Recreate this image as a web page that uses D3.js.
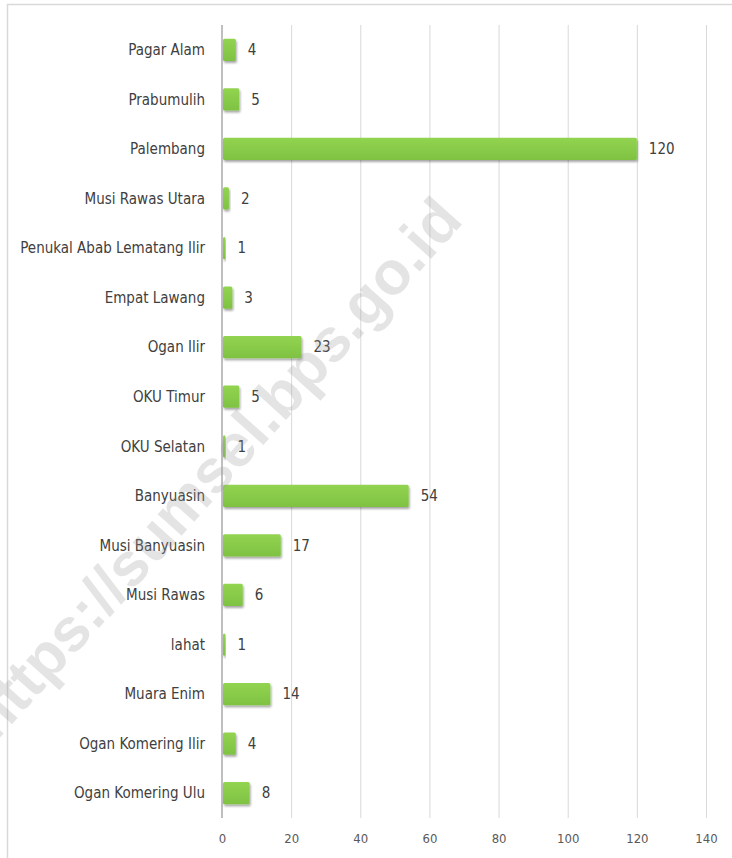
<!DOCTYPE html>
<html>
<head>
<meta charset="utf-8">
<script src="https://cdn.jsdelivr.net/npm/d3@7"></script>
<style>
  body { margin: 0; background: #fff; }
  svg { display: block; }
  .cat { font-family: "Liberation Sans Narrow", "DejaVu Sans Condensed", sans-serif; font-size: 15px; fill: #404040; }
  .val { font-family: "Liberation Sans Narrow", "DejaVu Sans Condensed", sans-serif; font-size: 15px; fill: #404040; }
  .tick text { font-family: "Liberation Sans Narrow", "DejaVu Sans Condensed", sans-serif; font-size: 13px; fill: #595959; }
</style>
</head>
<body>
<svg id="chart"></svg>
<script>
// data
var regions = ["Pagar Alam", "Prabumulih", "Palembang", "Musi Rawas Utara",
  "Penukal Abab Lematang Ilir", "Empat Lawang", "Ogan Ilir", "OKU Timur",
  "OKU Selatan", "Banyuasin", "Musi Banyuasin", "Musi Rawas", "lahat",
  "Muara Enim", "Ogan Komering Ilir", "Ogan Komering Ulu"];
var counts = [4, 5, 120, 2, 1, 3, 23, 5, 1, 54, 17, 6, 1, 14, 4, 8];
var xTicks = [0, 20, 40, 60, 80, 100, 120, 140];
var watermarkText = "https://sumsel.bps.go.id";

var width = 732, height = 858;
var margin = { top: 25, right: 26, bottom: 40, left: 222 };
var chartWidth = width - margin.left - margin.right;
var chartHeight = height - margin.top - margin.bottom;

var svg = d3.select('#chart').attr('width', width).attr('height', height);

// outer frame
svg.append('rect')
    .attr('x', 7.5).attr('y', 4.5)
    .attr('width', width + 20).attr('height', height + 20)
    .attr('fill', 'none').attr('stroke', '#d9d9d9').attr('stroke-width', 1.5);

var defs = svg.append('defs');
var grad = defs.append('linearGradient').attr('id', 'bargrad')
    .attr('x1', 0).attr('y1', 0).attr('x2', 0).attr('y2', 1);
grad.append('stop').attr('offset', '0%').attr('stop-color', '#92d451');
grad.append('stop').attr('offset', '100%').attr('stop-color', '#7fc242');
var shadow = defs.append('filter').attr('id', 'shadow')
    .attr('x', '-10%').attr('y', '-20%').attr('width', '130%').attr('height', '160%');
shadow.append('feDropShadow').attr('dx', 1).attr('dy', 2).attr('stdDeviation', 1.2)
    .attr('flood-color', '#000').attr('flood-opacity', 0.35);

var x = d3.scaleLinear().domain([0, 140]).range([0, chartWidth]);
var y = d3.scaleBand().domain(regions).range([0, chartHeight]).paddingInner(0.55).paddingOuter(0.275);

var g = svg.append('g').attr('transform', 'translate(' + margin.left + ',' + margin.top + ')');

// grid
g.append('g')
    .attr('class', 'grid')
    .attr('transform', 'translate(0,' + chartHeight + ')')
    .call(d3.axisBottom(x).tickValues(xTicks).tickSize(-chartHeight).tickFormat(''))
    .call(function(s) {
        s.select('.domain').remove();
        s.selectAll('line').attr('stroke', '#d9d9d9').attr('stroke-width', 1);
    });

// x tick labels
g.append('g')
    .attr('transform', 'translate(0,' + chartHeight + ')')
    .call(d3.axisBottom(x).tickValues(xTicks).tickSize(0).tickPadding(16))
    .call(function(s) { s.select('.domain').remove(); });

// category axis line
g.append('line')
    .attr('x1', x(0)).attr('x2', x(0))
    .attr('y1', 0).attr('y2', chartHeight)
    .attr('stroke', '#bfbfbf').attr('stroke-width', 2);

// bars
g.selectAll('.bar')
    .data(regions)
    .enter().append('rect')
    .attr('class', 'bar')
    .attr('x', x(0) + 1)
    .attr('y', function(d) { return y(d); })
    .attr('width', function(d, i) { return Math.max(x(counts[i]) - x(0) - 1, 2); })
    .attr('height', y.bandwidth())
    .attr('rx', 1.5)
    .attr('fill', 'url(#bargrad)')
    .attr('filter', 'url(#shadow)');

// value labels
g.selectAll('.val')
    .data(regions)
    .enter().append('text')
    .attr('class', 'val')
    .attr('x', function(d, i) { return x(counts[i]) + 12; })
    .attr('y', function(d) { return y(d) + y.bandwidth() / 2; })
    .attr('dy', '0.35em')
    .text(function(d, i) { return counts[i]; });

// category labels
g.selectAll('.cat')
    .data(regions)
    .enter().append('text')
    .attr('class', 'cat')
    .attr('x', -17)
    .attr('y', function(d) { return y(d) + y.bandwidth() / 2; })
    .attr('dy', '0.35em')
    .attr('text-anchor', 'end')
    .text(function(d) { return d; });

// watermark (runs off the left edge, as in the source image)
svg.append('text')
    .attr('transform', 'translate(214,468) rotate(-48)')
    .attr('text-anchor', 'middle')
    .attr('dy', '0.35em')
    .style('font-family', '"Liberation Sans", Arial, sans-serif')
    .style('font-weight', 'bold')
    .style('font-size', '61px')
    .attr('fill', '#9a9a9a')
    .attr('opacity', 0.26)
    .text(watermarkText);
</script>
</body>
</html>
